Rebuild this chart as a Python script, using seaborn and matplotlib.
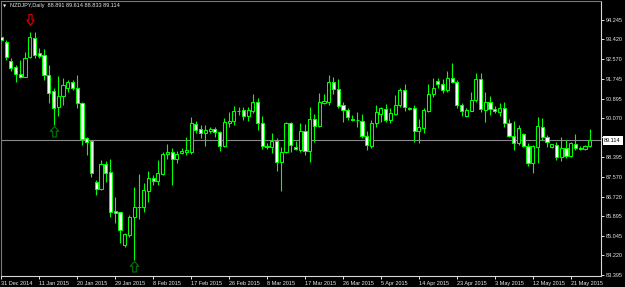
import matplotlib
matplotlib.use("Agg")
import matplotlib.pyplot as plt
import matplotlib.transforms as mtransforms
from matplotlib.path import Path
import numpy as np
import pandas as pd
import seaborn as sns

# ---------------- data ----------------
symbol_title = "NZDJPY,Daily"

opens = [93.520, 93.320, 92.510, 92.229, 91.943, 91.828, 92.660, 93.490, 92.851, 92.753,
         91.900, 91.218, 90.523, 91.018, 91.359, 91.602, 91.333, 90.719, 89.202, 89.087,
         87.352, 87.041, 88.094, 87.752, 86.103, 86.047, 84.653, 85.080, 85.834, 86.260,
         86.286, 86.969, 87.522, 87.394, 87.680, 88.533, 88.605, 88.320, 88.562, 88.631,
         88.631, 89.811, 89.586, 89.415, 89.513, 89.611, 89.492, 88.874, 89.867, 89.939,
         90.366, 90.395, 90.165, 90.379, 90.762, 89.867, 88.874, 88.844, 89.099, 88.205,
         88.631, 89.841, 88.844, 88.703, 89.526, 88.673, 90.025, 89.726, 90.694, 90.762,
         91.589, 91.291, 90.621, 90.409, 90.012, 89.982, 89.939, 89.300, 88.895, 89.841,
         90.229, 90.451, 89.995, 90.246, 90.621, 91.282, 90.438, 90.494, 89.526, 89.662,
         90.387, 91.078, 91.644, 91.504, 91.261, 91.760, 91.615, 90.608, 90.165, 90.387,
         90.835, 91.730, 90.429, 90.762, 90.442, 90.336, 90.481, 89.875, 89.313, 88.989,
         89.385, 88.886, 88.136, 88.844, 89.697, 89.270, 88.818, 88.916, 88.392, 88.775,
         88.447, 88.959, 88.800, 88.746, 88.891]

highs = [93.819, 93.392, 92.638, 92.327, 92.540, 92.894, 93.750, 93.730, 93.064, 93.009,
         92.327, 91.333, 91.858, 91.760, 91.687, 91.687, 91.900, 90.762, 89.270, 89.129,
         87.425, 88.277, 88.234, 88.320, 86.712, 86.073, 85.152, 85.932, 87.138, 87.680,
         87.284, 87.808, 87.637, 88.277, 88.631, 88.946, 88.775, 88.661, 88.801, 89.270,
         90.097, 89.952, 89.769, 89.769, 89.671, 89.697, 89.535, 90.055, 90.336, 90.579,
         90.523, 90.549, 90.523, 91.078, 90.907, 90.152, 89.014, 89.415, 89.202, 88.844,
         89.910, 89.910, 89.099, 89.841, 89.811, 90.549, 90.225, 91.146, 91.078, 91.900,
         91.828, 91.717, 90.762, 90.481, 90.195, 90.336, 90.237, 89.513, 89.969, 90.621,
         90.549, 90.664, 90.481, 91.048, 91.355, 91.517, 90.557, 90.608, 90.012, 90.506,
         91.517, 91.772, 91.785, 91.730, 92.071, 92.399, 91.687, 90.694, 90.481, 91.188,
         91.973, 91.973, 91.188, 91.026, 90.579, 90.694, 90.762, 90.012, 89.952, 89.769,
         89.441, 88.989, 88.916, 90.097, 90.055, 89.343, 88.980, 89.057, 89.245, 89.129,
         89.057, 89.385, 88.860, 88.916, 89.614]

lows = [93.252, 92.540, 92.084, 91.589, 91.760, 91.800, 92.620, 92.612, 92.612, 91.687,
        90.707, 89.769, 90.152, 90.621, 91.188, 91.261, 90.481, 88.916, 88.490, 87.565,
        86.785, 86.999, 87.352, 85.860, 85.578, 84.726, 84.581, 85.007, 84.014, 85.749,
        86.073, 86.499, 87.211, 87.211, 87.637, 88.307, 87.211, 88.136, 88.533, 88.490,
        88.533, 89.441, 89.202, 88.861, 89.415, 89.245, 88.652, 88.844, 89.671, 89.769,
        90.195, 89.982, 89.952, 90.268, 89.556, 88.733, 88.733, 88.588, 87.821, 86.977,
        88.562, 88.631, 88.703, 88.631, 88.490, 88.205, 89.057, 89.671, 90.680, 90.621,
        91.078, 90.481, 89.910, 89.982, 89.952, 89.671, 89.236, 88.703, 88.801, 89.697,
        89.910, 89.910, 89.841, 90.195, 90.528, 90.366, 90.409, 89.057, 88.989, 89.415,
        90.323, 90.975, 91.333, 91.120, 91.188, 91.581, 90.502, 90.174, 90.123, 90.353,
        90.762, 90.336, 89.910, 90.195, 90.293, 90.152, 89.671, 89.245, 88.703, 88.916,
        88.818, 88.021, 87.710, 88.136, 89.129, 88.844, 88.788, 88.277, 88.250, 88.349,
        88.392, 88.703, 88.700, 88.703, 88.833]

closes = [93.392, 92.680, 92.212, 91.930, 91.828, 92.638, 93.507, 92.753, 92.710, 91.900,
          91.146, 90.506, 91.018, 91.474, 91.602, 91.333, 90.694, 89.172, 89.057, 87.710,
          87.041, 88.094, 87.710, 86.073, 86.030, 85.293, 85.109, 85.834, 86.260, 86.280,
          86.999, 87.522, 87.394, 87.710, 88.533, 88.631, 88.320, 88.533, 88.673, 88.703,
          89.841, 89.556, 89.415, 89.543, 89.611, 89.483, 88.874, 89.897, 89.952, 90.379,
          90.387, 90.165, 90.409, 90.762, 89.867, 88.874, 88.818, 89.099, 88.205, 88.631,
          89.841, 88.916, 88.733, 89.526, 88.673, 90.025, 89.726, 90.762, 90.792, 91.589,
          91.291, 90.579, 90.409, 90.097, 89.969, 89.969, 89.300, 88.916, 89.841, 90.323,
          90.481, 89.995, 90.268, 90.643, 91.282, 90.549, 90.515, 89.526, 89.684, 90.409,
          91.078, 91.346, 91.517, 91.261, 91.760, 91.615, 90.608, 90.366, 90.409, 90.835,
          91.730, 90.438, 90.762, 90.472, 90.366, 90.481, 89.867, 89.300, 89.014, 89.654,
          88.874, 88.136, 88.874, 89.726, 89.245, 89.057, 88.946, 88.392, 88.775, 88.447,
          88.989, 88.775, 88.760, 88.895, 89.114]

date_labels = ["31 Dec 2014", "11 Jan 2015", "20 Jan 2015", "29 Jan 2015", "8 Feb 2015",
               "17 Feb 2015", "26 Feb 2015", "8 Mar 2015", "17 Mar 2015", "26 Mar 2015",
               "5 Apr 2015", "14 Apr 2015", "23 Apr 2015", "3 May 2015", "12 May 2015",
               "21 May 2015"]
bars_per_label = 8

price_ticks = [94.245, 93.420, 92.570, 91.745, 90.895, 90.070, 89.245, 88.395,
               87.570, 86.720, 85.895, 85.045, 84.220, 83.395]

fractal_up_bars = [11, 28]
fractal_down_bars = [6]

# ---------------- style ----------------
LIME = "#00ff00"
TEXT = "#e8e8e8"
sns.set_style("dark", {"axes.facecolor": "black", "figure.facecolor": "black",
                       "axes.grid": False})
plt.rcParams["font.family"] = ["Liberation Sans", "DejaVu Sans"]

W, H = 625, 287
fig = plt.figure(figsize=(W / 100, H / 100), dpi=100, facecolor="black")
ax = fig.add_axes([1 / W, 11 / H, 600 / W, 275 / H])
ax.set_facecolor("black")
ax.grid(False)

df = pd.DataFrame({"bar": np.arange(len(opens)), "open": opens, "high": highs,
                   "low": lows, "close": closes})
bull = df["close"] >= df["open"]

# bid line
last_price = df["close"].iloc[-1]
ax.axhline(last_price, color="#8a8a8a", linewidth=0.8, zorder=1)

# wicks
ax.vlines(df["bar"], df["low"], df["high"], colors=LIME, linewidth=0.8, zorder=2)
# bodies
body_lo = np.minimum(df["open"], df["close"])
body_h = np.maximum((df["close"] - df["open"]).abs(), 0.012)
ax.bar(df["bar"], body_h, bottom=body_lo, width=0.66,
       color=np.where(bull, "black", "white"), edgecolor=LIME, linewidth=0.75, zorder=3)

# fractal arrows (hollow), marker paths anchored at the bar's low / high
up_verts = [(0, -1), (4.3, -5.8), (1.8, -5.8), (1.8, -11.5), (-1.8, -11.5),
            (-1.8, -5.8), (-4.3, -5.8), (0, -1)]
down_verts = [(0, 7), (3.6, 12.5), (1.6, 12.5), (1.6, 18), (-1.6, 18),
              (-1.6, 12.5), (-3.6, 12.5), (0, 7)]
up_marker = Path(up_verts, closed=True)
down_marker = Path(down_verts, closed=True)
up_ms = 2 * 11.5 * 0.72
down_ms = 2 * 18 * 0.72
ax.plot(df["bar"].iloc[fractal_up_bars], df["low"].iloc[fractal_up_bars], linestyle="none",
        marker=up_marker, markersize=up_ms, markerfacecolor="none",
        markeredgecolor="#007a00", markeredgewidth=0.8, zorder=4)
ax.plot(df["bar"].iloc[fractal_down_bars], df["high"].iloc[fractal_down_bars], linestyle="none",
        marker=down_marker, markersize=down_ms, markerfacecolor="none",
        markeredgecolor="#e00000", markeredgewidth=0.8, zorder=4)

# limits
ax.set_xlim(-0.07, 126.38)
ax.set_ylim(83.333, 95.055)

# x axis (dates)
xt = np.arange(len(date_labels)) * bars_per_label
ax.set_xticks(xt)
ax.set_xticklabels(date_labels, ha="left")
ax.tick_params(axis="x", bottom=True, length=2.2, width=0.7, color=TEXT,
               labelcolor=TEXT, labelsize=4, pad=1.2)

# y axis (prices, right); the label under the current-price box is hidden by it
last_price_str = f"{last_price:.3f}"
ax.yaxis.tick_right()
ax.set_yticks(price_ticks)
ax.set_yticklabels(["" if abs(v - last_price) < 0.2 else f"{v:.3f}" for v in price_ticks])
ax.tick_params(axis="y", right=True, left=False, length=2, width=0.7, color=TEXT,
               labelcolor=TEXT, labelsize=4, pad=1.2)

for side in ["top", "left"]:
    ax.spines[side].set_color("#7a7a7a")
    ax.spines[side].set_linewidth(0.8)
for side in ["right", "bottom"]:
    ax.spines[side].set_color("#d8d8d8")
    ax.spines[side].set_linewidth(0.8)

# current price box
trans = mtransforms.offset_copy(mtransforms.blended_transform_factory(ax.transAxes, ax.transData),
                                fig=fig, x=3.2, y=0, units="dots")
ax.text(1.0, last_price, last_price_str, transform=trans, ha="left", va="center",
        fontsize=4, color="black", zorder=10, clip_on=False,
        bbox=dict(boxstyle="square,pad=0.3", fc="white", ec="white", lw=0))

# title
o, h, l, c = df.iloc[-1][["open", "high", "low", "close"]]
fig.text(3 / W, 1 - 6 / H, "\u25BC", fontsize=3, color=TEXT, va="center", ha="left",
         family=["DejaVu Sans"])
fig.text(10 / W, 1 - 6 / H, f"{symbol_title}  {o:.3f} {h:.3f} {l:.3f} {c:.3f}",
         fontsize=4, color=TEXT, va="center", ha="left")

fig.savefig("out.png", dpi=100, facecolor="black")
